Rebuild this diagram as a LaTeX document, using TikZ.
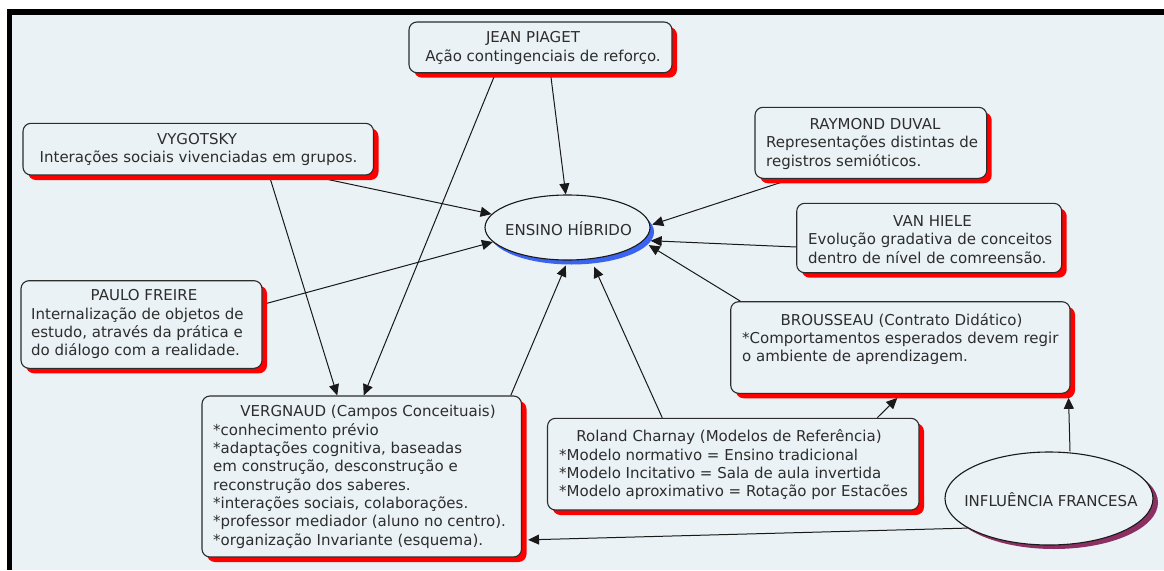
\documentclass[tikz,border=0pt]{standalone}
\usepackage{fontspec}
\setmainfont{DejaVu Sans}
\usetikzlibrary{arrows.meta,shapes.geometric,shadows}

\definecolor{mapbg}{RGB}{234,242,245}
\definecolor{ink}{RGB}{45,45,45}
\definecolor{linkcol}{RGB}{25,25,25}
\definecolor{shred}{RGB}{255,0,0}
\definecolor{shblue}{RGB}{58,100,240}
\definecolor{shplum}{RGB}{140,48,100}

\pgfdeclarelayer{frame}
\pgfdeclarelayer{edges}
\pgfsetlayers{frame,edges,main}

\tikzset{
  concept/.style={draw=ink, line width=1.1pt, fill=mapbg, rounded corners=8pt,
    inner sep=0pt,
    drop shadow={shadow xshift=5pt, shadow yshift=-5pt, fill=shred, opacity=1}},
  hubblue/.style={ellipse, draw=linkcol, line width=1.1pt, fill=mapbg, inner sep=0pt,
    drop shadow={shadow xshift=4pt, shadow yshift=-4.5pt, fill=shblue, opacity=1}},
  hubplum/.style={ellipse, draw=linkcol, line width=1.1pt, fill=mapbg, inner sep=0pt,
    drop shadow={shadow xshift=5pt, shadow yshift=-4pt, fill=shplum, opacity=1}},
  heading/.style={inner sep=0pt, text=ink, anchor=base},
  bodytext/.style={inner sep=0pt, text=ink, align=left, anchor=north west},
  link/.style={draw=linkcol, line width=1pt, -{Triangle[length=11pt,width=10pt]}}
}

\begin{document}
\begin{tikzpicture}[x=1pt, y=-1pt, font=\fontsize{15}{18.3}\selectfont]
\useasboundingbox (0,0) rectangle (1164,570);

% frame and canvas
\begin{pgfonlayer}{frame}
  \fill[black] (7,9) rectangle (1164,570);
  \fill[mapbg] (12,14.5) rectangle (1164,570);
\end{pgfonlayer}

% central concepts
\node[hubblue, minimum width=165pt, minimum height=65pt] (ensino) at (567.5,227.5) {};
\node[heading] (ensino-t) at (568.5,235.5) {ENSINO HÍBRIDO};

\node[hubplum, minimum width=208pt, minimum height=93pt] (influ) at (1049,498.5) {};
\node[heading] (influ-t) at (1051,506) {INFLUÊNCIA FRANCESA};

% author boxes
\node[concept, minimum width=263pt, minimum height=50.7pt] (piaget) at (540.5,47.35) {};
\node[heading] (piaget-t) at (533,42.3) {JEAN PIAGET};
\node[heading] (piaget-b) at (543,61) {Ação contingenciais de reforço.};

\node[concept, minimum width=350.5pt, minimum height=51.7pt] (vyg) at (198.25,149.15) {};
\node[heading] (vyg-t) at (197,144) {VYGOTSKY};
\node[heading] (vyg-b) at (198.5,162.7) {Interações sociais vivenciadas em grupos.};

\node[concept, minimum width=231.7pt, minimum height=71pt] (duval) at (870.85,142.8) {};
\node[heading] (duval-t) at (875,129.3) {RAYMOND DUVAL};
\node[bodytext] (duval-b) at (766,134.7)
  {\rule{0pt}{13pt}Representações distintas de\\registros semióticos.};

\node[concept, minimum width=265pt, minimum height=69.4pt] (vanhiele) at (929.2,238) {};
\node[heading] (vanhiele-t) at (932.5,226.5) {VAN HIELE};
\node[bodytext] (vanhiele-b) at (808,231.5)
  {\rule{0pt}{13pt}Evolução gradativa de conceitos\\dentro de nível de comreensão.};

\node[concept, minimum width=241pt, minimum height=87.6pt] (freire) at (141.5,324.5) {};
\node[heading] (freire-t) at (144,300.7) {PAULO FREIRE};
\node[bodytext] (freire-b) at (31,306)
  {\rule{0pt}{13pt}Internalização de objetos de\\estudo, através da prática e\\do diálogo com a realidade.};

\node[concept, minimum width=319.5pt, minimum height=161pt] (verg) at (361.75,476.5) {};
\node[heading] (verg-t) at (368,416.7) {VERGNAUD (Campos Conceituais)};
\node[bodytext] (verg-b) at (213,422)
  {\rule{0pt}{13pt}*conhecimento prévio\\
   *adaptações cognitiva, baseadas\\
   em construção, desconstrução e\\
   reconstrução dos saberes.\\
   *interações sociais, colaborações.\\
   *professor mediador (aluno no centro).\\
   *organização Invariante (esquema).};

\node[concept, minimum width=371.5pt, minimum height=91.7pt] (charnay) at (733.25,464.15) {};
\node[heading] (charnay-t) at (729,441.7) {Roland Charnay (Modelos de Referência)};
\node[bodytext] (charnay-b) at (559,447)
  {\rule{0pt}{13pt}*Modelo normativo = Ensino tradicional\\
   *Modelo Incitativo = Sala de aula invertida\\
   *Modelo aproximativo = Rotação por Estacões};

\node[concept, minimum width=339.3pt, minimum height=91.6pt] (brou) at (900.35,347.5) {};
\node[heading] (brou-t) at (901.5,325) {BROUSSEAU (Contrato Didático)};
\node[bodytext] (brou-b) at (742,330.3)
  {\rule{0pt}{13pt}*Comportamentos esperados devem regir\\o ambiente de aprendizagem.};

% connectors, drawn beneath the concepts
\begin{pgfonlayer}{edges}
  \draw[link] ([shift={(10,0)}]piaget.south) -- (ensino.93);
  \draw[link] ([shift={(-45,0)}]piaget.south) -- ([shift={(2,0)}]verg.north);
  \draw[link] ([shift={(71,0)}]vyg.south) -- ([shift={(-24.5,0)}]verg.north);
  \draw[link] ([shift={(111,0)}]vyg.south) -- (ensino.170);
  \draw[link] ([shift={(0,-20)}]freire.east) -- (ensino.191);
  \draw[link] ([shift={(149,0)}]verg.north) -- ([shift={(0,5)}]ensino.267);
  \draw[link] ([shift={(-71,0)}]charnay.north) -- ([shift={(8,7)}]ensino.300);
  \draw[link] ([shift={(144,0)}]charnay.north) -- ([shift={(-3,4)}]brou.south);
  \draw[link] ([shift={(-160,0)}]brou.north) -- ([shift={(8,2)}]ensino.348);
  \draw[link] ([shift={(0,9)}]vanhiele.west) -- ([shift={(6,1)}]ensino.351);
  \draw[link] ([shift={(-79,0)}]duval.south) -- ([shift={(2,0)}]ensino.2);
  \draw[link] ([shift={(21,0)}]influ.north) -- ([shift={(-2,4)}]brou.south east);
  \draw[link] (influ.200) -- ([shift={(6,-17.7)}]verg.south east);
\end{pgfonlayer}
\end{tikzpicture}
\end{document}
